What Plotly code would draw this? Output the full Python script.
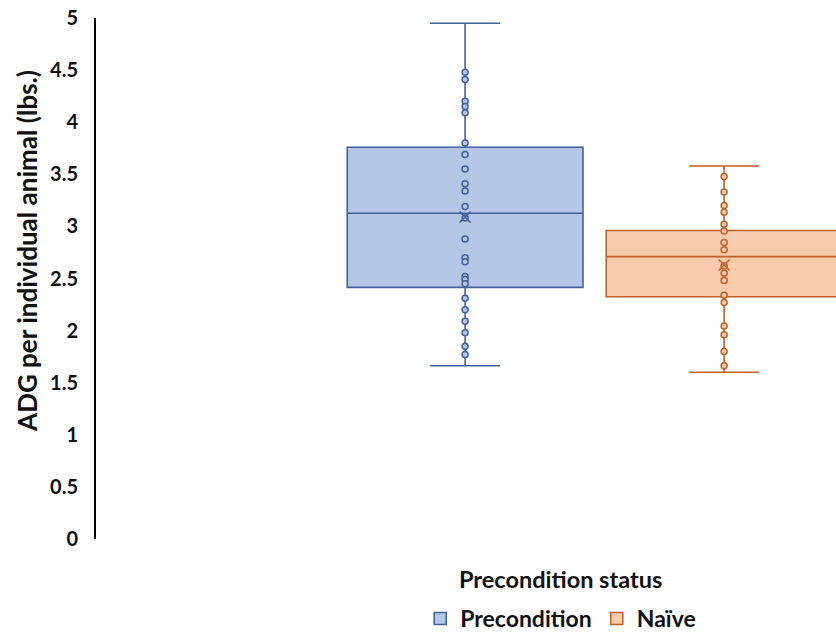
import plotly.graph_objects as go

categories = ["Precondition", "Naïve"]
q1 = [2.415, 2.325]
median = [3.126, 2.71]
q3 = [3.76, 2.96]
lower_whisker = [1.663, 1.60]
upper_whisker = [4.95, 3.58]
means = [3.09, 2.63]
precondition_points = [4.48, 4.41, 4.20, 4.15, 4.09, 3.80, 3.69, 3.55, 3.41, 3.34, 3.19,
                       3.08, 2.88, 2.70, 2.66, 2.52, 2.49, 2.45, 2.31, 2.20, 2.09, 1.98,
                       1.85, 1.77]
naive_points = [3.48, 3.33, 3.20, 3.135, 3.02, 2.955, 2.845, 2.775, 2.62, 2.55, 2.48,
                2.34, 2.27, 2.045, 1.96, 1.80, 1.663]
points = [precondition_points, naive_points]
y_ticks = [0, 0.5, 1, 1.5, 2, 2.5, 3, 3.5, 4, 4.5, 5]
y_tick_text = ["0", "0.5", "1", "1.5", "2", "2.5", "3", "3.5", "4", "4.5", "5"]

fills = ["#B4C7E7", "#F8CBAD"]
lines = ["#45619A", "#C0612A"]
FONT = "Lato, Carlito, Calibri, sans-serif"
TXT = "#111111"
BOX_W = 0.91
CAP_W = 0.27

fig = go.Figure()
for i, cat in enumerate(categories):
    fig.add_trace(go.Box(
        name=cat, x=[i], q1=[q1[i]], median=[median[i]], q3=[q3[i]],
        lowerfence=[lower_whisker[i]], upperfence=[upper_whisker[i]],
        width=BOX_W, fillcolor=fills[i], line=dict(color=lines[i], width=1.6),
        whiskerwidth=0, boxpoints=False, showlegend=True,
    ))
for i, cat in enumerate(categories):
    for v in (lower_whisker[i], upper_whisker[i]):
        fig.add_trace(go.Scatter(
            x=[i - CAP_W / 2, i + CAP_W / 2], y=[v, v], mode="lines",
            line=dict(color=lines[i], width=1.6), showlegend=False, hoverinfo="skip"))
    fig.add_trace(go.Scatter(
        x=[i] * len(points[i]), y=points[i], mode="markers",
        marker=dict(symbol="circle", size=6, color=fills[i],
                    line=dict(color=lines[i], width=1.5)),
        showlegend=False, hoverinfo="skip"))
    fig.add_trace(go.Scatter(
        x=[i], y=[means[i]], mode="markers",
        marker=dict(symbol="x-thin", size=11, line=dict(color=lines[i], width=1.6)),
        showlegend=False, hoverinfo="skip"))

fig.update_layout(
    width=836, height=640, autosize=False,
    margin=dict(l=96, r=0, t=18, b=101),
    paper_bgcolor="white", plot_bgcolor="white",
    font=dict(family=FONT, color=TXT),
    showlegend=True,
    legend=dict(orientation="h", x=0.628, xanchor="center", y=-0.1939, yanchor="bottom",
                font=dict(family=FONT, size=23, color=TXT, weight="bold"),
                itemwidth=30),
    xaxis=dict(range=[-1.425, 1.432], showticklabels=False, showgrid=False,
               zeroline=False, showline=False, ticks=""),
    yaxis=dict(range=[0, 5], tickvals=y_ticks, ticktext=y_tick_text,
               showgrid=False, zeroline=False, showline=True, linecolor="#000000",
               linewidth=2, ticks="", ticklabelstandoff=12, ticklabeloverflow="allow",
               automargin=False,
               tickfont=dict(family=FONT, size=20, color=TXT, weight="bold")),
    annotations=[
        dict(text="ADG per individual animal (lbs.)", textangle=-90, xref="paper", yref="paper",
             x=-0.0932, y=0.553, xanchor="center", yanchor="middle", showarrow=False,
             font=dict(family=FONT, size=26, color=TXT, weight="bold")),
        dict(text="Precondition status", xref="paper", yref="paper",
             x=0.628, y=-0.0768, xanchor="center", yanchor="middle", showarrow=False,
             font=dict(family=FONT, size=23.5, color=TXT, weight="bold")),
    ],
)

fig.write_html(
    "out.html",
    config={"displayModeBar": False, "responsive": False},
    post_script="document.body.style.margin='0';",
)
